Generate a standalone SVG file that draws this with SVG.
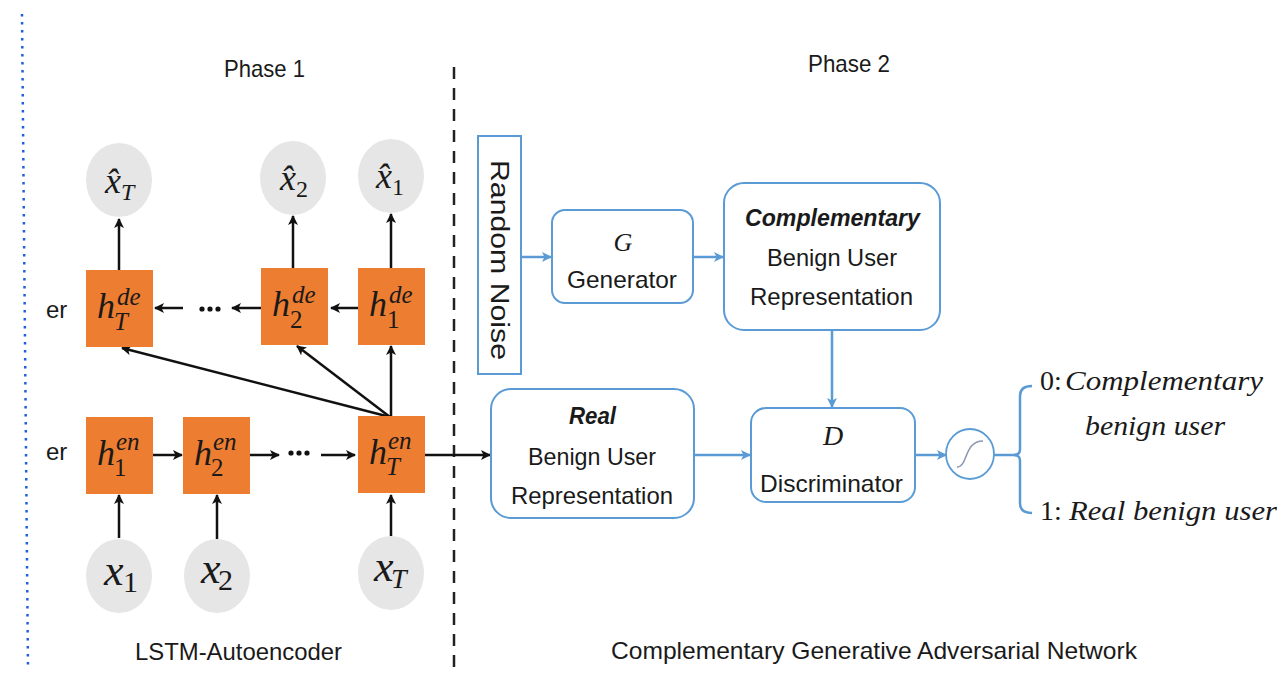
<svg xmlns="http://www.w3.org/2000/svg" width="1277" height="678" viewBox="0 0 1277 678">
<defs>
<marker id="ak" viewBox="0 0 10 10" refX="9" refY="5" markerWidth="10" markerHeight="10" markerUnits="userSpaceOnUse" orient="auto"><path d="M0,0 L10,5 L0,10 L2.5,5 z" fill="#111"/></marker>
<marker id="ab" viewBox="0 0 10 10" refX="9" refY="5" markerWidth="10" markerHeight="10" markerUnits="userSpaceOnUse" orient="auto"><path d="M0,0 L10,5 L0,10 L2.5,5 z" fill="#5b9bd5"/></marker>
<style>
.sans{font-family:"Liberation Sans",Arial,sans-serif;fill:#1a1a1a}
.math{font-family:"Liberation Serif","Times New Roman",serif;font-style:italic;fill:#1a1a1a}
.up{font-family:"Liberation Serif","Times New Roman",serif;fill:#1a1a1a}
.cell{fill:#ed7d31}
.io{fill:#e6e6e6}
.bbox{fill:#fff;stroke:#5b9bd5;stroke-width:2}
.k{stroke:#111;stroke-width:2.5;fill:none;marker-end:url(#ak)}
.b{stroke:#5b9bd5;stroke-width:2.5;fill:none;marker-end:url(#ab)}
</style>
</defs>
<rect width="1277" height="678" fill="#fff"/>
<line x1="22" y1="14" x2="28" y2="669" stroke="#1f5fd8" stroke-width="2.5" stroke-dasharray="2.5 5.5"/>
<line x1="454" y1="67" x2="454" y2="672" stroke="#222" stroke-width="2.5" stroke-dasharray="12 9"/>

<text class="sans" x="224" y="77" font-size="24" textLength="81" lengthAdjust="spacingAndGlyphs">Phase 1</text>
<text class="sans" x="808" y="72" font-size="24" textLength="82" lengthAdjust="spacingAndGlyphs">Phase 2</text>
<text class="sans" x="46" y="318" font-size="24">er</text>
<text class="sans" x="46" y="460" font-size="24">er</text>
<text class="sans" x="135" y="660" font-size="24" textLength="207" lengthAdjust="spacingAndGlyphs">LSTM-Autoencoder</text>
<text class="sans" x="611" y="659" font-size="24" textLength="526" lengthAdjust="spacingAndGlyphs">Complementary Generative Adversarial Network</text>

<g id="connectors">
<line class="k" x1="119" y1="270" x2="119" y2="219"/>
<line class="k" x1="293" y1="268" x2="293" y2="216"/>
<line class="k" x1="391" y1="268" x2="391" y2="214"/>
<line class="k" x1="358" y1="308" x2="331" y2="308"/>
<line class="k" x1="261" y1="308" x2="232" y2="308"/>
<line class="k" x1="183" y1="308" x2="155" y2="308"/>
<circle cx="202" cy="309" r="2.6" fill="#111"/><circle cx="210" cy="309" r="2.6" fill="#111"/><circle cx="218" cy="309" r="2.6" fill="#111"/>
<line class="k" x1="153" y1="455" x2="182" y2="455"/>
<line class="k" x1="250" y1="455" x2="279" y2="455"/>
<circle cx="291" cy="453" r="2.6" fill="#111"/><circle cx="299" cy="453" r="2.6" fill="#111"/><circle cx="307" cy="453" r="2.6" fill="#111"/>
<line class="k" x1="321" y1="455" x2="355" y2="455"/>
<line class="k" x1="119" y1="538" x2="119" y2="495"/>
<line class="k" x1="217" y1="539" x2="217" y2="495"/>
<line class="k" x1="391" y1="536" x2="391" y2="495"/>
<line class="k" x1="390" y1="417" x2="122" y2="348"/>
<line class="k" x1="390" y1="417" x2="297" y2="346"/>
<line class="k" x1="391" y1="417" x2="391" y2="346"/>
<line class="k" x1="425" y1="455" x2="490" y2="455"/>
<line class="b" x1="522" y1="257" x2="551" y2="257"/>
<line class="b" x1="693" y1="257" x2="723" y2="257"/>
<line class="b" x1="832" y1="330" x2="832" y2="407"/>
<line class="b" x1="694" y1="455" x2="750" y2="455"/>
<line class="b" x1="915" y1="455" x2="946" y2="455"/>
<line x1="994" y1="455" x2="1018" y2="455" stroke="#5b9bd5" stroke-width="2.5"/>
<path d="M1032,386 Q1020,386 1020,396 L1020,449 Q1020,455 1014,455 Q1020,455 1020,461 L1020,503 Q1020,513 1032,513" fill="none" stroke="#5b9bd5" stroke-width="2.5"/>
</g>

<g id="xhatT"><ellipse class="io" cx="119" cy="180" rx="33" ry="37"/><text class="math" x="105" y="193" font-size="36">x̂<tspan font-size="24" dy="7">T</tspan></text></g>
<g id="xhat2"><ellipse class="io" cx="293" cy="178" rx="33" ry="37"/><text class="math" x="280" y="190" font-size="36">x̂<tspan font-size="24" dy="7" font-style="normal">2</tspan></text></g>
<g id="xhat1"><ellipse class="io" cx="391" cy="176" rx="33" ry="37"/><text class="math" x="376" y="188" font-size="36">x̂<tspan font-size="24" dy="7" font-style="normal">1</tspan></text></g>

<g id="hdeT"><rect class="cell" x="86" y="270" width="67" height="77"/><text class="math" x="97" y="318" font-size="36">h</text><text class="math" x="117" y="305" font-size="25">de</text><text class="math" x="114" y="330" font-size="25">T</text></g>
<g id="hde2"><rect class="cell" x="261" y="268" width="67" height="77"/><text class="math" x="272" y="316" font-size="36">h</text><text class="math" x="292" y="303" font-size="25">de</text><text class="up" x="290" y="328" font-size="25">2</text></g>
<g id="hde1"><rect class="cell" x="358" y="268" width="67" height="77"/><text class="math" x="369" y="316" font-size="36">h</text><text class="math" x="389" y="303" font-size="25">de</text><text class="up" x="387" y="328" font-size="25">1</text></g>

<g id="hen1"><rect class="cell" x="86" y="417" width="67" height="77"/><text class="math" x="97" y="465" font-size="36">h</text><text class="math" x="116" y="450" font-size="25">en</text><text class="up" x="114" y="476" font-size="25">1</text></g>
<g id="hen2"><rect class="cell" x="183" y="417" width="67" height="77"/><text class="math" x="194" y="465" font-size="36">h</text><text class="math" x="213" y="450" font-size="25">en</text><text class="up" x="211" y="476" font-size="25">2</text></g>
<g id="henT"><rect class="cell" x="358" y="416" width="67" height="77"/><text class="math" x="369" y="464" font-size="36">h</text><text class="math" x="388" y="449" font-size="25">en</text><text class="math" x="386" y="475" font-size="25">T</text></g>

<g id="x1"><ellipse class="io" cx="119" cy="576" rx="33" ry="37"/><text class="math" x="104" y="585" font-size="44">x</text><text class="up" x="123" y="592" font-size="30">1</text></g>
<g id="x2"><ellipse class="io" cx="217" cy="576" rx="33" ry="37"/><text class="math" x="201" y="583" font-size="44">x</text><text class="up" x="218" y="590" font-size="30">2</text></g>
<g id="xT"><ellipse class="io" cx="391" cy="573" rx="33" ry="37"/><text class="math" x="374" y="581" font-size="44">x</text><text class="math" x="391" y="588" font-size="28">T</text></g>

<g id="noise"><rect class="bbox" x="478" y="136" width="43" height="238"/><text class="sans" transform="translate(491,160) rotate(90)" x="0" y="0" font-size="26" textLength="200" lengthAdjust="spacingAndGlyphs">Random Noise</text></g>
<g id="generator"><rect class="bbox" x="552" y="210" width="141" height="93" rx="13"/><text class="math" x="623" y="251" font-size="26" text-anchor="middle">G</text><text class="sans" x="567" y="288" font-size="24" textLength="110" lengthAdjust="spacingAndGlyphs">Generator</text></g>
<g id="complementary"><rect class="bbox" x="724" y="183" width="216" height="147" rx="20"/><text class="sans" x="745" y="226" font-size="24" font-weight="bold" font-style="italic" textLength="175" lengthAdjust="spacingAndGlyphs">Complementary</text><text class="sans" x="767" y="266" font-size="24" textLength="130" lengthAdjust="spacingAndGlyphs">Benign User</text><text class="sans" x="750" y="305" font-size="24" textLength="163" lengthAdjust="spacingAndGlyphs">Representation</text></g>
<g id="real"><rect class="bbox" x="491" y="389" width="203" height="129" rx="20"/><text class="sans" x="569" y="424" font-size="24" font-weight="bold" font-style="italic" textLength="47" lengthAdjust="spacingAndGlyphs">Real</text><text class="sans" x="528" y="465" font-size="24" textLength="128" lengthAdjust="spacingAndGlyphs">Benign User</text><text class="sans" x="511" y="504" font-size="24" textLength="162" lengthAdjust="spacingAndGlyphs">Representation</text></g>
<g id="discriminator"><rect class="bbox" x="751" y="408" width="164" height="94" rx="15"/><text class="math" x="833" y="445" font-size="28" text-anchor="middle">D</text><text class="sans" x="760" y="492" font-size="24" textLength="143" lengthAdjust="spacingAndGlyphs">Discriminator</text></g>
<g id="sigmoid"><ellipse cx="970" cy="454" rx="24" ry="25" fill="#fff" stroke="#5b9bd5" stroke-width="1.8"/><path d="M957,467 C968,467 964,441 983,441" fill="none" stroke="#8a9ab0" stroke-width="1.5"/></g>
<g id="outputs">
<text class="up" x="1040" y="390" font-size="28">0:<tspan font-style="italic" x="1065" textLength="198" lengthAdjust="spacingAndGlyphs">Complementary</tspan></text>
<text class="math" x="1085" y="435" font-size="28" textLength="140" lengthAdjust="spacingAndGlyphs">benign user</text>
<text class="up" x="1040" y="520" font-size="28">1:<tspan font-style="italic" x="1069" textLength="208" lengthAdjust="spacingAndGlyphs">Real benign user</tspan></text>
</g>
</svg>
